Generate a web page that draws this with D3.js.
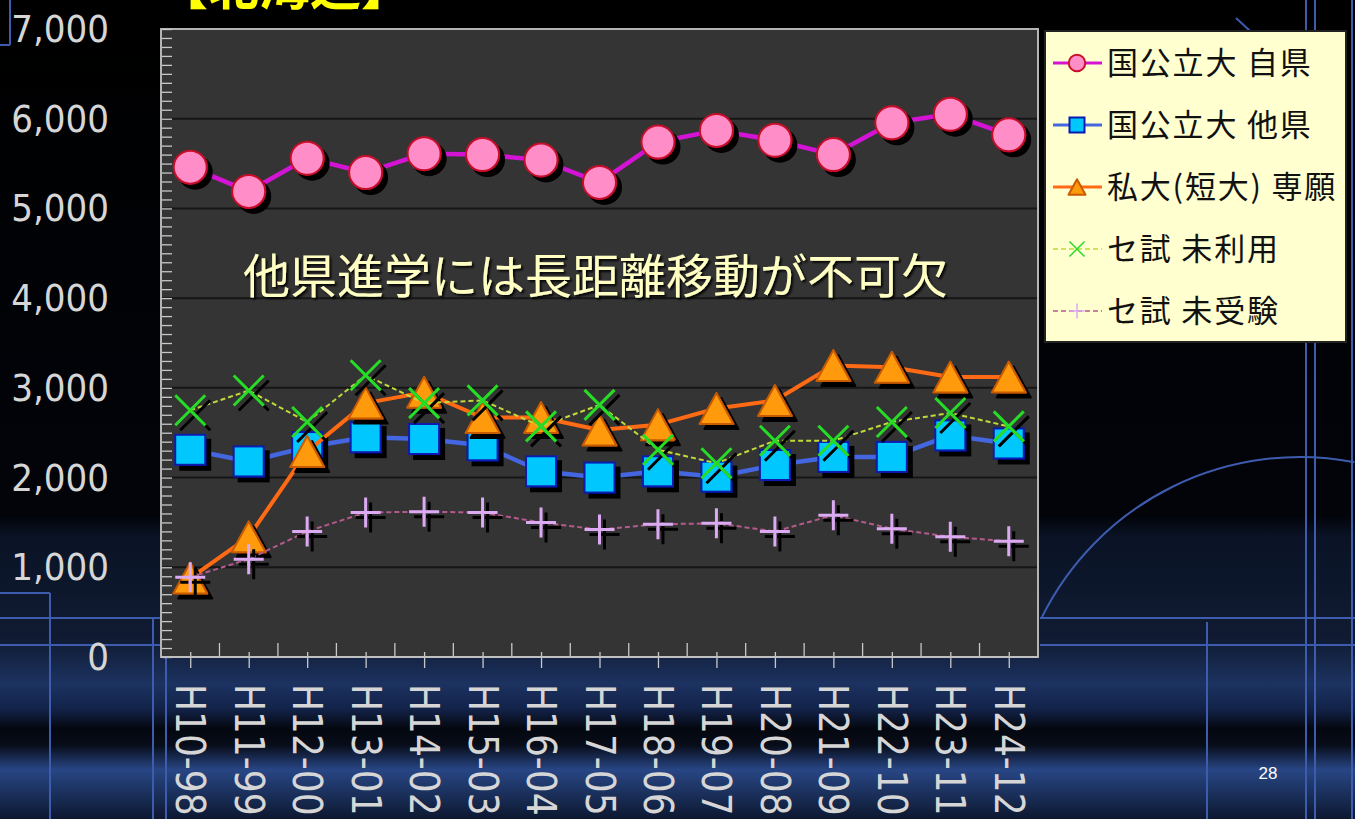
<!DOCTYPE html>
<html><head><meta charset="utf-8">
<script src="https://cdn.jsdelivr.net/npm/d3@7"></script>
<style>
html,body{margin:0;padding:0;background:#000;overflow:hidden}
svg{display:block}
</style></head>
<body>
<svg id="chart" width="1355" height="819"></svg>
<script>
// ---------- data ----------
const categories = ["H10-98","H11-99","H12-00","H13-01","H14-02","H15-03","H16-04","H17-05","H18-06","H19-07","H20-08","H21-09","H22-10","H23-11","H24-12"];
const seriesNames = ["国公立大 自県","国公立大 他県","私大(短大) 専願","セ試 未利用","セ試 未受験"];
const kokkoJiken   = [5460,5190,5560,5400,5610,5600,5540,5290,5740,5870,5760,5600,5955,6050,5820];
const kokkoTaken   = [2310,2180,2340,2450,2430,2360,2070,2000,2070,2010,2140,2230,2230,2470,2380];
const shidaiSengan = [880,1340,2290,2830,2950,2670,2670,2530,2590,2770,2860,3250,3230,3120,3120];
const senshiMiriyo = [2750,2970,2620,3140,2830,2860,2570,2810,2310,2160,2410,2410,2620,2720,2570];
const senshiMijuken= [890,1090,1400,1610,1620,1610,1500,1420,1480,1490,1400,1580,1430,1340,1290];
const yTickValues  = [0,1000,2000,3000,4000,5000,6000,7000];
const titleText = "【北海道】";
const noteText = "他県進学には長距離移動が不可欠";
const pageNumber = "28";

const seriesData = [kokkoJiken, kokkoTaken, shidaiSengan, senshiMiriyo, senshiMijuken];

// ---------- setup ----------
const svg = d3.select("#chart");
const W = 1355, H = 819;
const plot = {left:161, right:1038, top:29, bottom:657};
const CJK = "'Noto Sans CJK JP','Noto Sans CJK SC',sans-serif";
const NUM = "'DejaVu Sans Condensed','DejaVu Sans',sans-serif";

const defs = svg.append("defs");
const bg = defs.append("linearGradient").attr("id","bgGrad").attr("x1",0).attr("y1",0).attr("x2",0).attr("y2",1);
[[0,"#000000"],[0.63,"#02040a"],[0.655,"#0a1325"],[0.78,"#101b33"],[0.835,"#1c3260"],[0.865,"#13234a"],[0.89,"#04070e"],[0.91,"#080d1a"],[0.94,"#284685"],[0.97,"#1a2f5a"],[1,"#0d1830"]]
  .forEach(([o,c])=>bg.append("stop").attr("offset",o).attr("stop-color",c));
const sh = defs.append("filter").attr("id","mshadow").attr("x","-50%").attr("y","-50%").attr("width","200%").attr("height","200%");
sh.append("feDropShadow").attr("dx",5).attr("dy",5).attr("stdDeviation",0.5).attr("flood-color","#000").attr("flood-opacity",1);
const tsh = defs.append("filter").attr("id","tshadow");
tsh.append("feDropShadow").attr("dx",2).attr("dy",2).attr("stdDeviation",1).attr("flood-color","#000").attr("flood-opacity",0.9);

// background
svg.append("rect").attr("width",W).attr("height",H).attr("fill","url(#bgGrad)");
const deco = svg.append("g").attr("stroke","#3d5cae").attr("stroke-width",2).attr("fill","none");
[[0,593,50,593],[50,593,50,819],[0,618,160,618],[0,645,160,645],[153,618,153,819],[166,657,166,819],
 [1040,618,1355,618],[1040,645,1355,645],[1207,622,1207,819],[1306,0,1306,819],[1315,0,1315,819],[1352,0,1352,819],
 [0,45,10,45],[10,0,10,45],[1236,18,1262,42]]
 .forEach(([x1,y1,x2,y2])=>deco.append("line").attr("x1",x1).attr("y1",y1).attr("x2",x2).attr("y2",y2));
const arcPath = d3.path();
arcPath.arc(0,0,288,Math.PI+0.46,Math.PI*1.5+0.19);
deco.append("path").attr("transform","translate(1300,745)").attr("d",arcPath.toString());

// scales
const x = d3.scalePoint().domain(categories).range([plot.left, plot.right]).padding(0.5);
const y = d3.scaleLinear().domain([0,7000]).range([plot.bottom, plot.top]);

// title
svg.append("text").attr("x",157).attr("y",5).attr("font-family",CJK).attr("font-weight","bold")
  .attr("font-size",51).attr("fill","#ffff00").text(titleText);

// plot area
svg.append("rect").attr("x",plot.left).attr("y",plot.top).attr("width",plot.right-plot.left).attr("height",plot.bottom-plot.top)
  .attr("fill","#343434").attr("stroke","#b4b4b4").attr("stroke-width",2);

// gridlines
svg.append("g").selectAll("line").data(yTickValues.filter(d=>d>0 && d<7000)).join("line")
  .attr("x1",plot.left+1).attr("x2",plot.right-1).attr("y1",d=>y(d)).attr("y2",d=>y(d))
  .attr("stroke","#161616").attr("stroke-width",2);

// y minor ticks (inside)
const yAxis = d3.axisRight(y).ticks(70).tickSize(10).tickFormat("");
const yg = svg.append("g").attr("transform",`translate(${plot.left+1},0)`).call(yAxis);
yg.select(".domain").remove();
yg.selectAll("line").attr("stroke","#c8c8c8").attr("stroke-width",1.3);

// y labels
svg.append("g").selectAll("text").data(yTickValues).join("text")
  .attr("x",109).attr("y",d=>y(d)).attr("text-anchor","end").attr("dominant-baseline","central")
  .attr("font-family",NUM).attr("font-size",38).attr("fill","#d6d6d6")
  .text(d=>d3.format(",")(d));

// x axis ticks
const xg = svg.append("g").attr("transform",`translate(0,${plot.bottom})`)
  .call(d3.axisBottom(x).tickSize(11).tickFormat(""));
xg.select(".domain").remove();
xg.selectAll("line").attr("stroke","#c8c8c8").attr("stroke-width",1.3).attr("y1",-5);
const step = x.step();
svg.append("g").selectAll("line").data(categories.slice(0,-1)).join("line")
  .attr("x1",d=>x(d)+step/2).attr("x2",d=>x(d)+step/2).attr("y1",plot.bottom-14).attr("y2",plot.bottom)
  .attr("stroke","#c8c8c8").attr("stroke-width",1.3);
svg.append("line").attr("x1",plot.left).attr("x2",plot.right).attr("y1",plot.bottom).attr("y2",plot.bottom)
  .attr("stroke","#c0c0c0").attr("stroke-width",2);

// x labels rotated
svg.append("g").selectAll("text").data(categories).join("text")
  .attr("transform",d=>`translate(${x(d)},684) rotate(90)`)
  .attr("dominant-baseline","central").attr("text-anchor","start")
  .attr("font-family",NUM).attr("font-size",40).attr("fill","#d6d6d6").text(d=>d);

// marker shapes
const tri = (w,h)=>`M0,${-h/2}L${w/2},${h/2}L${-w/2},${h/2}Z`;
const styles = [
  {line:"#d414d4", lw:4.5, dash:null, draw:(g,s)=>g.append("circle").attr("r",16.5*s).attr("fill","#ff8dc8").attr("stroke","#c8102a").attr("stroke-width",2)},
  {line:"#4466e0", lw:4.5, dash:null, draw:(g,s)=>g.append("rect").attr("x",-15*s).attr("y",-15*s).attr("width",30*s).attr("height",30*s).attr("fill","#00c8ff").attr("stroke","#0a1ab0").attr("stroke-width",2)},
  {line:"#ff6a14", lw:4, dash:null, draw:(g,s)=>g.append("path").attr("d",tri(34*s,31*s)).attr("fill","#ff9a0a").attr("stroke","#c85a00").attr("stroke-width",2).attr("stroke-linejoin","round")},
  {line:"#c2d83a", lw:2, dash:"5,3", draw:(g,s)=>g.append("path").attr("d",`M${-15*s},${-15*s}L${15*s},${15*s}M${15*s},${-15*s}L${-15*s},${15*s}`).attr("stroke","#28dc28").attr("stroke-width",s<1?1.5:3)},
  {line:"#b45a8c", lw:2, dash:"5,3", draw:(g,s)=>g.append("path").attr("d",`M0,${-15*s}V${15*s}M${-15*s},0H${15*s}`).attr("stroke","#dcaaf2").attr("stroke-width",s<1?1.5:3)}
];

const lineGen = d3.line().x((d,i)=>x(categories[i])).y(d=>y(d));
seriesData.forEach((vals,si)=>{
  const st = styles[si];
  const g = svg.append("g");
  g.append("path").attr("d",lineGen(vals)).attr("fill","none").attr("stroke",st.line)
    .attr("stroke-width",st.lw).attr("stroke-dasharray",st.dash).attr("stroke-linejoin","round");
  const mg = g.append("g").attr("filter","url(#mshadow)");
  vals.forEach((v,i)=>{
    const m = mg.append("g").attr("transform",`translate(${x(categories[i])},${y(v)})`);
    st.draw(m,1);
  });
});

// annotation
svg.append("text").attr("x",243).attr("y",293).attr("font-family",CJK).attr("font-size",47)
  .attr("fill","#ffffc4").attr("filter","url(#tshadow)").text(noteText);

// legend
const lg = svg.append("g");
lg.append("rect").attr("x",1045).attr("y",31).attr("width",301).attr("height",311)
  .attr("fill","#ffffcf").attr("stroke","#222").attr("stroke-width",2);
seriesNames.forEach((name,i)=>{
  const cy = 63 + i*62;
  const st = styles[i];
  lg.append("line").attr("x1",1053).attr("x2",1102).attr("y1",cy).attr("y2",cy)
    .attr("stroke",st.line).attr("stroke-width",st.lw*0.7).attr("stroke-dasharray",st.dash);
  const m = lg.append("g").attr("transform",`translate(1077,${cy})`);
  st.draw(m,0.5);
  lg.append("text").attr("x",1107).attr("y",cy+11).attr("font-family",CJK).attr("font-size",31)
    .attr("fill","#111").attr("letter-spacing",1.8).text(name);
});

// page number
svg.append("text").attr("x",1268).attr("y",779).attr("text-anchor","middle").attr("font-family","'Liberation Sans',Arial,sans-serif")
  .attr("font-size",17).attr("fill","#ffffff").text(pageNumber);
</script>
</body></html>
